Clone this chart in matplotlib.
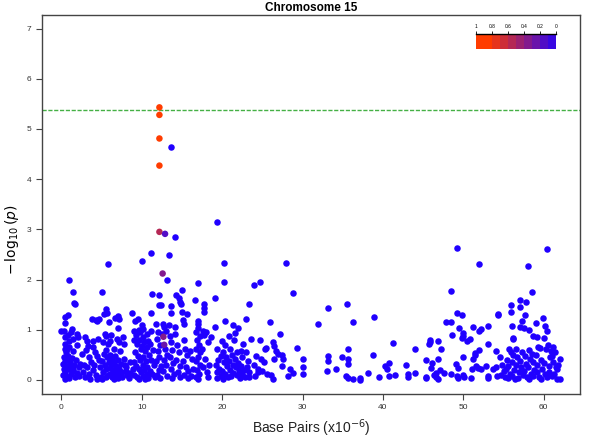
import numpy as np
import matplotlib
matplotlib.use("Agg")
import matplotlib.pyplot as plt
from matplotlib.colors import LinearSegmentedColormap

plt.rcParams['font.family'] = ['Liberation Sans', 'DejaVu Sans']

# 染色体上的位置 (Mb) 与 -log10(p)，按区段记录；r2 = 0 的点
seg_0_5 = [(0.95, 1.99), (1.5, 1.76), (1.6, 1.54), (1.7, 1.52), (0.8, 1.29), (0.5, 1.26), (0.5, 1.14),
           (0.0, 0.97), (0.3, 0.98), (0.4, 0.85), (0.5, 0.72), (0.4, 0.62), (0.6, 0.55), (0.3, 0.45),
           (0.5, 0.38), (0.2, 0.32), (0.6, 0.28), (0.3, 0.22), (0.5, 0.15), (0.2, 0.10), (0.6, 0.08),
           (0.4, 0.02), (0.8, 0.90), (0.9, 0.78), (1.0, 0.66), (0.8, 0.48), (1.1, 0.35), (0.9, 0.22),
           (1.2, 0.12), (1.0, 0.03), (1.3, 1.02), (1.2, 0.95), (1.4, 0.82), (1.5, 0.58), (1.3, 0.44),
           (1.6, 0.30), (1.4, 0.18), (1.7, 0.05), (1.8, 0.40), (2.0, 0.92), (2.1, 0.86), (2.0, 0.70),
           (2.2, 0.26), (1.9, 0.14), (2.3, 0.32), (2.2, 0.08), (0.7, 0.62), (1.1, 0.26), (1.5, 0.22),
           (0.9, 0.42), (2.6, 0.52), (2.8, 0.30), (3.0, 0.85), (3.2, 0.78), (3.3, 0.68), (3.1, 0.60),
           (3.4, 0.45), (3.2, 0.25), (3.5, 0.12), (3.0, 0.05), (3.7, 0.36), (3.9, 0.78), (4.0, 0.66),
           (4.2, 0.55), (3.9, 0.20), (4.3, 0.10), (4.1, 0.30), (4.5, 0.48), (4.6, 0.82), (4.7, 0.40),
           (4.8, 0.25), (4.9, 0.05), (4.4, 0.02), (2.7, 0.15), (3.6, 0.02), (3.8, 1.21), (4.3, 1.19),
           (4.7, 1.21), (4.5, 1.17)]
seg_5_9 = [(5.8, 2.31), (5.1, 1.75), (5.5, 1.41), (5.7, 1.34), (5.3, 1.31), (5.4, 0.92), (5.6, 0.88),
           (5.2, 0.75), (5.8, 0.72), (5.5, 0.60), (5.3, 0.52), (5.7, 0.45), (5.1, 0.38), (5.9, 0.35),
           (5.4, 0.30), (5.6, 0.22), (5.2, 0.15), (5.8, 0.10), (5.5, 0.05), (5.0, 0.02), (6.0, 0.78),
           (6.1, 0.50), (6.3, 0.42), (6.2, 0.30), (6.0, 0.24), (6.4, 0.18), (6.1, 0.12), (6.3, 0.06),
           (6.5, 0.01), (6.6, 0.62), (6.7, 0.48), (6.5, 0.36), (6.8, 0.28), (6.6, 0.20), (6.9, 0.14),
           (6.7, 0.08), (7.0, 0.03), (6.7, 1.24), (7.1, 1.27), (7.2, 1.21), (7.0, 1.03), (6.9, 0.82),
           (7.2, 0.75), (7.3, 0.58), (7.1, 0.40), (7.4, 0.32), (7.2, 0.22), (7.5, 0.15), (7.3, 0.10),
           (7.6, 0.05), (7.7, 0.85), (7.8, 0.72), (7.9, 0.30), (8.0, 0.18), (8.2, 0.10), (7.8, 0.42),
           (8.4, 0.03), (8.1, 0.25), (6.2, 0.90), (5.9, 1.15), (8.8, 1.34), (8.6, 0.14), (8.9, 0.22),
           (8.5, 0.35)]
seg_9_12 = [(10.0, 2.37), (11.1, 2.53), (9.2, 1.17), (9.5, 1.21), (9.0, 0.98), (9.3, 0.90), (9.6, 1.00),
            (9.8, 0.95), (9.1, 0.80), (9.4, 0.72), (9.7, 0.80), (9.9, 0.62), (9.2, 0.55), (9.5, 0.48),
            (9.8, 0.40), (9.0, 0.35), (9.3, 0.28), (9.6, 0.22), (9.9, 0.15), (9.1, 0.10), (9.4, 0.06),
            (9.7, 0.02), (10.0, 1.10), (10.2, 1.02), (10.1, 0.85), (10.3, 0.75), (10.0, 0.68),
            (10.4, 0.58), (10.2, 0.45), (10.5, 0.38), (10.1, 0.30), (10.3, 0.20), (10.6, 0.12),
            (10.2, 0.08), (10.4, 0.02), (10.7, 0.92), (10.8, 0.78), (10.6, 0.65), (10.9, 0.50),
            (10.7, 0.26), (11.0, 0.18), (10.8, 0.04), (11.1, 1.33), (11.3, 1.72), (11.2, 0.98),
            (11.0, 0.72), (11.4, 0.60), (11.2, 0.40), (11.5, 0.30), (11.3, 0.12), (11.6, 0.06)]
seg_12_19 = [(13.7, 4.64), (14.2, 2.85), (13.4, 2.48), (11.8, 1.12), (12.0, 0.95), (12.1, 1.49),
             (12.4, 1.50), (12.2, 1.69), (11.9, 0.82), (12.3, 0.70), (12.0, 0.58), (12.2, 0.45),
             (11.8, 0.38), (12.4, 0.28), (12.1, 0.20), (11.9, 0.10), (12.3, 0.04), (12.5, 0.92),
             (12.6, 1.12), (12.8, 1.05), (13.0, 0.98), (12.9, 0.62), (13.1, 0.50), (12.8, 0.40),
             (13.0, 0.30), (12.7, 0.18), (13.2, 0.08), (13.2, 1.99), (13.4, 1.10), (13.5, 0.88),
             (13.7, 1.47), (13.7, 1.34), (13.6, 0.75), (13.8, 0.60), (13.5, 0.46), (13.9, 0.34),
             (13.6, 0.22), (14.0, 0.12), (13.8, 0.04), (14.1, 1.05), (14.2, 0.92), (14.3, 1.69),
             (14.6, 1.64), (14.8, 1.56), (14.9, 1.52), (14.4, 0.70), (14.6, 0.55), (14.3, 0.40),
             (14.7, 0.28), (14.5, 0.15), (14.8, 0.06), (15.0, 1.79), (15.0, 1.36), (15.6, 1.31),
             (15.1, 1.20), (15.3, 1.12), (15.2, 0.80), (15.4, 0.62), (15.6, 0.50), (15.1, 0.38),
             (15.5, 0.26), (15.8, 0.18), (15.3, 0.10), (15.7, 0.03), (16.0, 0.58), (16.2, 0.42),
             (16.4, 0.22), (16.1, 0.08), (16.6, 1.59), (17.0, 1.93), (17.0, 1.17), (17.0, 1.11),
             (17.0, 1.03), (16.8, 0.95), (17.2, 0.88), (16.9, 0.80), (17.1, 0.70), (16.8, 0.62),
             (17.3, 0.55), (17.0, 0.45), (16.7, 0.38), (17.2, 0.30), (16.9, 0.20), (17.1, 0.12),
             (16.8, 0.05), (17.0, 0.01), (17.7, 1.52), (17.7, 1.44), (17.7, 1.35), (17.6, 0.98),
             (17.8, 0.90), (17.5, 0.62), (17.9, 0.42), (17.6, 0.25), (18.0, 0.95), (18.2, 0.75),
             (18.4, 0.30), (18.1, 0.15), (18.3, 0.05), (18.6, 0.85)]
seg_19_30 = [(19.3, 3.15), (20.2, 2.33), (28.0, 2.32), (19.1, 1.64), (19.1, 1.06), (19.3, 0.62),
             (19.5, 0.40), (19.2, 0.30), (19.6, 0.22), (19.4, 0.15), (19.8, 0.08), (19.3, 0.03),
             (19.9, 0.48), (20.2, 1.95), (20.4, 1.17), (20.0, 0.78), (20.3, 0.70), (20.1, 0.55),
             (20.5, 0.45), (20.2, 0.35), (20.6, 0.28), (20.0, 0.18), (20.4, 0.12), (20.7, 0.05),
             (20.1, 0.01), (20.8, 0.88), (21.0, 0.62), (21.2, 0.50), (20.9, 0.38), (21.3, 0.30),
             (21.0, 0.20), (21.4, 0.14), (21.1, 0.07), (21.4, 1.10), (22.0, 1.03), (21.6, 0.94),
             (21.5, 0.80), (21.8, 0.55), (21.6, 0.42), (22.0, 0.33), (21.7, 0.25), (22.1, 0.18),
             (21.9, 0.10), (22.2, 0.03), (22.3, 0.58), (22.5, 0.45), (22.4, 0.28), (22.7, 0.20),
             (22.5, 0.12), (22.8, 0.06), (23.0, 1.21), (23.3, 1.51), (23.0, 0.55), (23.2, 0.38),
             (23.1, 0.25), (23.4, 0.15), (23.3, 0.05), (22.6, 0.72), (23.6, 0.82), (24.7, 0.79),
             (24.0, 1.90), (24.7, 1.95), (24.2, 0.48), (24.0, 0.30), (24.4, 0.22), (24.1, 0.08),
             (24.5, 0.15), (24.9, 0.17), (24.8, 0.42), (25.3, 0.61), (25.5, 0.64), (25.2, 0.35),
             (25.6, 0.12), (26.0, 1.15), (26.3, 0.75), (26.5, 0.67), (26.7, 0.57), (26.9, 0.51),
             (26.5, 0.41), (26.1, 0.09), (26.3, 0.01), (27.2, 0.91), (27.5, 0.49), (27.6, 0.41),
             (27.5, 0.27), (28.4, 0.21), (28.8, 0.14), (28.2, 0.07), (28.8, 1.73), (29.3, 0.63),
             (30.0, 0.41), (30.0, 0.26), (30.0, 0.11)]
seg_30_54 = [(31.9, 1.12), (33.2, 1.43), (33.2, 0.47), (33.2, 0.37), (33.1, 0.17), (34.1, 0.21),
             (35.5, 1.52), (36.3, 1.15), (35.6, 0.62), (34.9, 0.46), (35.6, 0.42), (35.7, 0.31),
             (35.4, 0.07), (35.6, 0.04), (36.3, 0.02), (37.1, 0.04), (37.1, 0.00), (38.1, 0.13),
             (38.9, 1.25), (38.8, 0.49), (39.5, 0.06), (40.3, 0.27), (40.5, 0.22), (40.8, 0.34),
             (41.3, 0.74), (40.8, 0.07), (41.5, 0.09), (42.9, 0.30), (43.1, 0.11), (43.1, 0.06),
             (44.0, 0.13), (44.0, 0.62), (45.3, 0.39), (45.3, 0.06), (45.4, 0.03), (45.7, 0.71),
             (45.9, 0.79), (45.9, 0.75), (46.1, 0.34), (46.0, 0.24), (46.6, 0.13), (46.6, 0.06),
             (46.8, 0.02), (46.4, 0.09), (46.9, 0.77), (47.2, 0.62), (46.9, 0.41), (47.1, 0.19),
             (47.6, 0.13), (47.8, 1.15), (48.4, 1.78), (48.5, 1.15), (48.6, 0.90), (48.5, 0.12),
             (49.2, 2.63), (51.9, 2.30), (49.1, 0.31), (49.3, 0.24), (49.2, 0.07), (49.3, 0.03),
             (49.2, 1.33), (49.8, 1.29), (49.5, 1.04), (49.9, 0.94), (50.0, 0.87), (49.8, 0.84),
             (49.9, 0.46), (49.9, 0.09), (50.1, 0.06), (50.5, 0.77), (50.8, 0.81), (51.0, 0.03),
             (51.2, 1.06), (51.1, 0.21), (51.2, 0.41), (51.4, 0.49), (51.5, 0.54), (51.6, 0.27),
             (51.8, 0.24), (52.0, 0.59), (52.0, 0.97), (52.2, 1.02), (52.2, 0.21), (52.8, 0.27),
             (53.0, 0.07), (53.0, 0.04), (53.0, 1.07), (53.1, 0.71), (53.7, 0.21)]
seg_54_62 = [(60.4, 2.60), (58.0, 2.26), (58.5, 1.75), (54.0, 0.57), (54.3, 1.31), (55.9, 1.50),
             (55.9, 1.35), (56.1, 1.07), (56.2, 0.84), (56.2, 0.81), (57.1, 1.59), (57.1, 1.46),
             (57.3, 1.17), (57.1, 1.06), (57.5, 1.04), (57.6, 1.29), (57.8, 1.56), (58.2, 0.99),
             (58.6, 0.87), (59.0, 1.13), (59.2, 0.85), (59.9, 1.24), (60.0, 0.84), (60.2, 1.07),
             (60.4, 0.97), (59.5, 0.64), (60.3, 0.61), (60.9, 0.57), (61.1, 0.66), (61.5, 0.26),
             (61.7, 0.21), (62.0, 0.42), (62.0, 0.02), (54.5, 0.45), (54.8, 0.30), (55.0, 0.18),
             (54.7, 0.10), (55.2, 0.05), (55.4, 0.40), (55.6, 0.28), (55.3, 0.22), (55.8, 0.12),
             (55.5, 0.03), (55.9, 0.55), (56.0, 0.35), (56.3, 0.20), (56.1, 0.08), (56.4, 0.02),
             (56.5, 0.62), (56.7, 0.45), (56.6, 0.30), (56.9, 0.15), (56.8, 0.04), (57.0, 0.38),
             (57.2, 0.25), (57.4, 0.10), (57.6, 0.48), (57.8, 0.32), (57.5, 0.18), (57.9, 0.06),
             (58.1, 0.60), (58.3, 0.42), (58.0, 0.25), (58.4, 0.12), (58.2, 0.02), (58.6, 0.35),
             (58.8, 0.20), (58.7, 0.08), (59.0, 0.50), (59.2, 0.30), (59.1, 0.15), (59.4, 0.05),
             (59.6, 0.40), (59.8, 0.22), (59.7, 0.02), (60.0, 0.33), (60.2, 0.12), (60.4, 0.05),
             (60.6, 0.28), (60.8, 0.45), (60.7, 0.15), (61.0, 0.08), (61.2, 0.35), (61.4, 0.55),
             (61.3, 0.12), (61.6, 0.02), (61.8, 0.30), (54.2, 0.08), (54.0, 0.25), (55.7, 0.62),
             (56.2, 0.50), (57.3, 0.55), (58.5, 0.52), (59.3, 0.65), (60.5, 0.70), (61.0, 0.48),
             (54.3, 1.29)]

# 与先导 SNP 连锁的点 (位置, -log10 p, r2)
ld_pos = [12.2, 12.2, 12.2, 12.2, 12.2, 12.9, 12.6, 12.7, 12.8]
ld_logp = [5.43, 5.28, 4.81, 4.27, 2.95, 2.91, 2.12, 0.86, 0.70]
ld_r2 = [0.97, 0.96, 0.97, 0.96, 0.62, 0.25, 0.45, 0.4, 0.35]

threshold = 5.38
title = "Chromosome 15"
r2_ticks = [1, 0.8, 0.6, 0.4, 0.2, 0]
r2_blocks = [1.0, 0.9, 0.8, 0.7, 0.6, 0.5, 0.4, 0.3, 0.2, 0.1]

cmap = LinearSegmentedColormap.from_list("ld", ["#2000FF", "#FF3C00"], N=10)
blue = "#2000FF"

fig = plt.figure(figsize=(6.1, 4.43), dpi=100)
ax = fig.add_axes([42 / 610, 1 - 394 / 443, 538 / 610, 379 / 443])

bg = seg_0_5 + seg_5_9 + seg_9_12 + seg_12_19 + seg_19_30 + seg_30_54 + seg_54_62
bx = [p[0] for p in bg]
by = [p[1] for p in bg]
ax.scatter(bx, by, s=22, c=blue, linewidths=0, zorder=2)
ax.scatter(ld_pos, ld_logp, s=22, c=ld_r2, cmap=cmap, vmin=0, vmax=1, linewidths=0, zorder=3)

ax.axhline(threshold, color="#45b045", lw=1.0, ls=(0, (3, 1.2)), zorder=1)

ax.set_xlim(-2.4, 64.5)
ax.set_ylim(-0.28, 7.27)
ax.set_xticks([0, 10, 20, 30, 40, 50, 60])
ax.set_yticks(range(8))
for s in ax.spines.values():
    s.set_color("#444444")
    s.set_linewidth(1.0)
ax.tick_params(direction="out", length=4, width=0.8, colors="#444444", labelsize=6, labelcolor="#333333")
ax.set_title(title, fontsize=8.5, fontweight="bold", pad=3)
ax.set_xlabel(r"Base Pairs (x10$^{-6}$)", fontsize=10, color="#222222", labelpad=4)
fig.text(0.02, 0.46, r"$-\,\log_{10}(p)$", rotation=90, ha="center", va="center", fontsize=10)

# 右上角的 r2 色条
cax = fig.add_axes([476 / 610, 1 - 49 / 443, 80 / 610, 15 / 443])
cax.imshow(np.array([r2_blocks]), cmap=cmap, vmin=0, vmax=1, aspect="auto", extent=[0, 1, 0, 1])
cax.set_xticks([0, 0.2, 0.4, 0.6, 0.8, 1.0])
cax.set_xticklabels([str(t) for t in r2_ticks])
cax.set_yticks([])
cax.xaxis.tick_top()
cax.tick_params(axis="x", length=2.5, width=0.6, labelsize=3.5, pad=1)
for k in ["left", "right", "bottom"]:
    cax.spines[k].set_visible(False)
cax.spines["top"].set_linewidth(1.0)

fig.savefig("out.png", dpi=100)
